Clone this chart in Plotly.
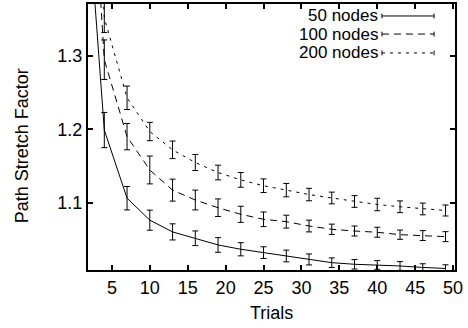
import plotly.graph_objects as go

trials = [1, 4, 7, 10, 13, 16, 19, 22, 25, 28, 31, 34, 37, 40, 43, 46, 49]

psf_50 = [1.62, 1.199, 1.106, 1.076, 1.060, 1.0513, 1.0422, 1.0363, 1.0317, 1.0271,
          1.0224, 1.0180, 1.0158, 1.0149, 1.0135, 1.0115, 1.0101]
err_50 = [0.04, 0.024, 0.016, 0.0137, 0.011, 0.010, 0.010, 0.009, 0.008, 0.008,
          0.0075, 0.0065, 0.0065, 0.006, 0.006, 0.005, 0.005]

psf_100 = [1.80, 1.295, 1.190, 1.1445, 1.117, 1.1035, 1.093, 1.084, 1.0772, 1.074,
           1.068, 1.0636, 1.0612, 1.0595, 1.0562, 1.055, 1.0535]
err_100 = [0.05, 0.027, 0.018, 0.019, 0.015, 0.0135, 0.012, 0.011, 0.010, 0.0088,
           0.008, 0.007, 0.0068, 0.0068, 0.0063, 0.0068, 0.0068]

psf_200 = [2.0, 1.352, 1.243, 1.197, 1.172, 1.1547, 1.141, 1.131, 1.123, 1.117,
           1.111, 1.1063, 1.1015, 1.0974, 1.0943, 1.0913, 1.0892]
err_200 = [0.05, 0.02, 0.016, 0.0125, 0.012, 0.011, 0.010, 0.010, 0.0093, 0.0091,
           0.0085, 0.008, 0.008, 0.0085, 0.008, 0.008, 0.0075]

series_names = ["50 nodes", "100 nodes", "200 nodes"]
dashes = ["solid", "7px,5px", "3px,5px"]
x_ticks = [5, 10, 15, 20, 25, 30, 35, 40, 45, 50]
y_ticks = [1.1, 1.2, 1.3]
y_tick_text = ["1.1", "1.2", "1.3"]

FONT = "Liberation Sans, Arial, Helvetica, sans-serif"
FS = 18

fig = go.Figure()
for name, ys, es, dash in zip(series_names, [psf_50, psf_100, psf_200],
                              [err_50, err_100, err_200], dashes):
    fig.add_trace(go.Scatter(
        x=trials, y=ys, name=name, mode="lines",
        line=dict(color="black", width=1, dash=dash),
        error_y=dict(type="data", array=es, visible=True, color="black",
                     thickness=1, width=3),
        showlegend=False, hoverinfo="skip",
    ))

# gnuplot-style legend (text left of sample), built in paper coords
x0, x1, xt = 0.801, 0.943, 0.7956
rows = [0.955, 0.887, 0.816]
for name, dash, yy in zip(series_names, dashes, rows):
    fig.add_annotation(x=xt, y=yy, xref="paper", yref="paper", text=name,
                       showarrow=False, xanchor="right", yanchor="middle",
                       font=dict(family=FONT, size=17, color="black"))
    fig.add_shape(type="line", xref="paper", yref="paper", x0=x0, x1=x1,
                  y0=yy, y1=yy, line=dict(color="black", width=1, dash=dash))
    for xe in (x0, x1):
        fig.add_shape(type="line", xref="paper", yref="paper", x0=xe, x1=xe,
                      y0=yy - 0.009, y1=yy + 0.009,
                      line=dict(color="black", width=1))

# axis titles
fig.add_annotation(x=0.5, y=-0.1617, xref="paper", yref="paper", text="Trials",
                   showarrow=False, xanchor="center", yanchor="middle",
                   font=dict(family=FONT, size=FS, color="black"))
fig.add_annotation(x=-0.1798, y=0.465, xref="paper", yref="paper",
                   text="Path Stretch Factor", textangle=-90,
                   showarrow=False, xanchor="center", yanchor="middle",
                   font=dict(family=FONT, size=FS, color="black"))

fig.update_layout(
    width=468, height=328,
    margin=dict(l=88, r=13, t=4, b=58, autoexpand=False),
    paper_bgcolor="white", plot_bgcolor="white",
    font=dict(family=FONT, size=FS, color="black"),
    hovermode=False,
)
fig.update_xaxes(
    range=[1.85, 50.25], tickvals=x_ticks,
    ticks="inside", ticklen=5, tickwidth=1.5, tickcolor="black",
    showline=True, linewidth=2, linecolor="black", mirror="ticks",
    showgrid=False, zeroline=False, automargin=False,
)
fig.update_yaxes(
    range=[1.008, 1.371], tickvals=y_ticks, ticktext=y_tick_text,
    ticks="inside", ticklen=5, tickwidth=1.5, tickcolor="black",
    showline=True, linewidth=2, linecolor="black", mirror="ticks",
    showgrid=False, zeroline=False, automargin=False,
)

fig.write_html("out.html", config={"displayModeBar": False},
               post_script="document.body.style.margin='0';")
